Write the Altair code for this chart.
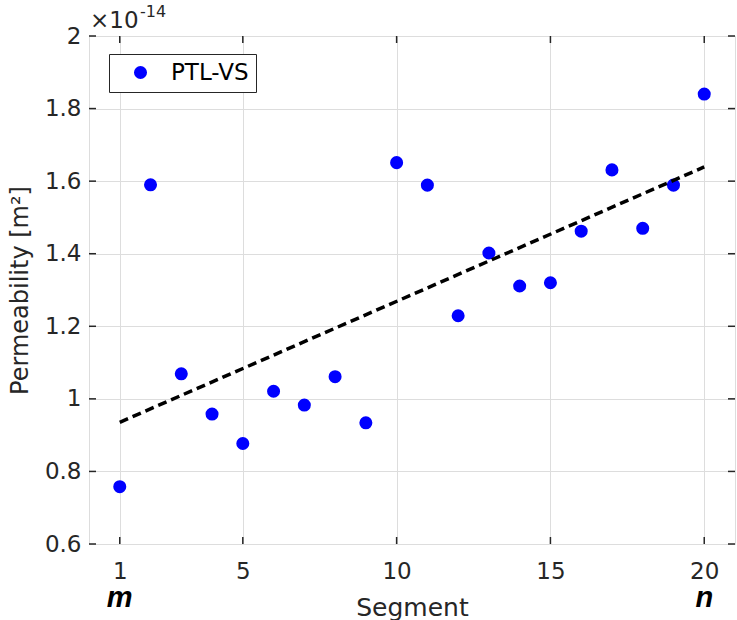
import altair as alt
import pandas as pd

segments = list(range(1, 21))
permeability = [0.758, 1.590, 1.069, 0.958, 0.877, 1.021, 0.983, 1.061, 0.934, 1.651,
                1.589, 1.229, 1.402, 1.311, 1.320, 1.462, 1.631, 1.470, 1.589, 1.840]
series_name = "PTL-VS"
x_ticks = [1, 5, 10, 15, 20]
y_ticks = [0.6, 0.8, 1.0, 1.2, 1.4, 1.6, 1.8, 2.0]
end_labels_x = [1, 20]
end_labels = ["m", "n"]

FONT = "DejaVu Sans"
W, H = 646, 508

df = pd.DataFrame({"segment": segments, "perm": permeability, "series": series_name})
xt = pd.DataFrame({"v": x_ticks})
yt = pd.DataFrame({"v": y_ticks})
ends = pd.DataFrame({"x": end_labels_x, "t": end_labels})

xscale = alt.Scale(domain=[0, 21], nice=False, zero=False)
yscale = alt.Scale(domain=[0.6, 2.0], nice=False, zero=False)

xaxis = alt.Axis(values=x_ticks, title="Segment", grid=True, ticks=False, domain=False,
                 labelPadding=16, titlePadding=12, labelFontSize=23, titleFontSize=25,
                 labelFont=FONT, titleFont=FONT, labelColor="#262626", titleColor="#262626",
                 titleFontWeight="normal")
yaxis = alt.Axis(values=y_ticks, title="Permeability [m²]", grid=True, ticks=False, domain=False,
                 format="~g", labelPadding=8, titlePadding=12, labelFontSize=23, titleFontSize=24,
                 labelFont=FONT, titleFont=FONT, labelColor="#262626", titleColor="#262626",
                 titleFontWeight="normal")

points = alt.Chart(df).mark_point(filled=True, size=170, opacity=1, shape="circle").encode(
    x=alt.X("segment:Q", scale=xscale, axis=xaxis),
    y=alt.Y("perm:Q", scale=yscale, axis=yaxis),
    color=alt.Color("series:N", scale=alt.Scale(domain=[series_name], range=["#0000ff"]),
                    legend=alt.Legend(title=None, orient="none", legendX=20, legendY=18,
                                      fillColor="white", strokeColor="#262626", padding=7,
                                      symbolType="circle", symbolSize=170, symbolOffset=13,
                                      labelFontSize=23, labelFont=FONT, labelColor="#000000",
                                      labelOffset=19, cornerRadius=0)),
)

trend = alt.Chart(df).transform_regression("segment", "perm").mark_line(
    color="black", strokeWidth=3.5, strokeDash=[9, 5]
).encode(x="segment:Q", y="perm:Q")

tick_style = dict(color="#262626", strokeWidth=1.5)
xt_bottom = alt.Chart(xt).mark_rule(**tick_style).encode(
    x=alt.X("v:Q", scale=xscale), y=alt.value(H), y2=alt.value(H - 7))
xt_top = alt.Chart(xt).mark_rule(**tick_style).encode(
    x=alt.X("v:Q", scale=xscale), y=alt.value(0), y2=alt.value(7))
yt_left = alt.Chart(yt).mark_rule(**tick_style).encode(
    y=alt.Y("v:Q", scale=yscale), x=alt.value(0), x2=alt.value(7))
yt_right = alt.Chart(yt).mark_rule(**tick_style).encode(
    y=alt.Y("v:Q", scale=yscale), x=alt.value(W), x2=alt.value(W - 7))

end_text = alt.Chart(ends).mark_text(
    font="Liberation Sans", fontSize=29, fontWeight="bold", fontStyle="italic",
    baseline="alphabetic", align="center", color="black"
).encode(x=alt.X("x:Q", scale=xscale), y=alt.value(H + 63), text="t:N")

exp_base = alt.Chart(pd.DataFrame({"t": ["×10"]})).mark_text(
    font=FONT, fontSize=23, align="left", baseline="alphabetic", color="#262626"
).encode(x=alt.value(1), y=alt.value(-8), text="t:N")
exp_pow = alt.Chart(pd.DataFrame({"t": ["-14"]})).mark_text(
    font=FONT, fontSize=16, align="left", baseline="alphabetic", color="#262626"
).encode(x=alt.value(51), y=alt.value(-19), text="t:N")

chart = alt.layer(points, trend, xt_bottom, xt_top, yt_left, yt_right, end_text,
                  exp_base, exp_pow).properties(
    width=W, height=H,
    autosize=alt.AutoSizeParams(type="none"),
    padding={"left": 89, "top": 36, "right": 2, "bottom": 76},
).configure_view(stroke="#262626", strokeWidth=1.3).configure_axis(
    gridColor="#a8a8a8", gridDash=[1.5, 1.5], gridWidth=1, gridOpacity=1
).configure(background="white")

chart.save("out.html", embed_options={"renderer": "svg", "actions": False})
